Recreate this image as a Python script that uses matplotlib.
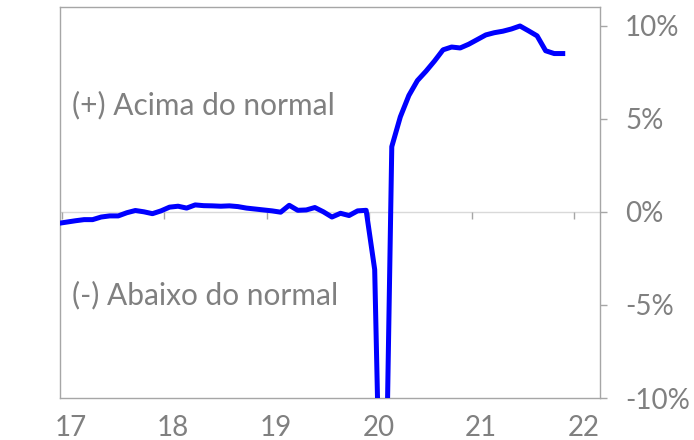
import numpy as np
import matplotlib.pyplot as plt

# monthly values, Jan 2017 .. Dec 2021 (% vs normal)
vals = [-0.62, -0.55, -0.48, -0.42, -0.42, -0.28, -0.22, -0.22, -0.05, 0.07,
        0.0, -0.1, 0.05, 0.25, 0.3, 0.2, 0.37, 0.33, 0.32, 0.3,
        0.32, 0.28, 0.2, 0.15, 0.1, 0.05, -0.02, 0.35, 0.08, 0.1,
        0.23, 0.0, -0.28, -0.08, -0.2, 0.05, 0.08, -3.1, -24.0, 3.5,
        5.1, 6.25, 7.05, 7.55, 8.1, 8.7, 8.85, 8.8, 9.0, 9.25,
        9.5, 9.62, 9.7, 9.82, 9.98, 9.72, 9.45, 8.65, 8.5, 8.5]
years = [17, 18, 19, 20, 21, 22]
year_labels = ['17', '18', '19', '20', '21', '22']
yticks = [-10, -5, 0, 5, 10]
ytick_labels = ['-10%', '-5%', '0%', '5%', '10%']

x = 16.97 + np.arange(len(vals)) / 12.0

plt.rcParams['font.family'] = ['Lato', 'DejaVu Sans']
grey = '#808080'
edge = '#a6a6a6'

fig = plt.figure(figsize=(6.94, 4.40), dpi=100)
ax = fig.add_axes([60 / 694, 42 / 440, 540 / 694, 391 / 440])

ax.axhline(0, color='#d9d9d9', lw=1, zorder=1)
ax.vlines(years, -0.375, 0, color=edge, lw=1, zorder=1)
ax.plot(x, vals, color='#0000ff', lw=3.6, solid_joinstyle='round', zorder=3)

ax.set_xlim(17 - 1.5 / 102.5, 22.25)
ax.set_ylim(-10, 11)

ax.set_xticks([y + 0.09 for y in years])
ax.set_xticklabels(year_labels)
ax.tick_params(axis='x', length=0, pad=12, labelsize=20, labelcolor=grey)

ax.yaxis.tick_right()
ax.set_yticks(yticks)
ax.set_yticklabels(ytick_labels)
ax.tick_params(axis='y', direction='out', length=5, width=1, color=edge,
               pad=13, labelsize=20, labelcolor=grey)
for lab in ax.get_yticklabels():
    lab.set_horizontalalignment('left')

for s in ax.spines.values():
    s.set_color(edge)
    s.set_linewidth(1)

ax.text(0.022, 0.748, '(+) Acima do normal', transform=ax.transAxes,
        fontsize=21.5, color=grey, va='center', ha='left')
ax.text(0.022, 0.262, '(-) Abaixo do normal', transform=ax.transAxes,
        fontsize=21.5, color=grey, va='center', ha='left')

fig.savefig('out.png', dpi=100)
